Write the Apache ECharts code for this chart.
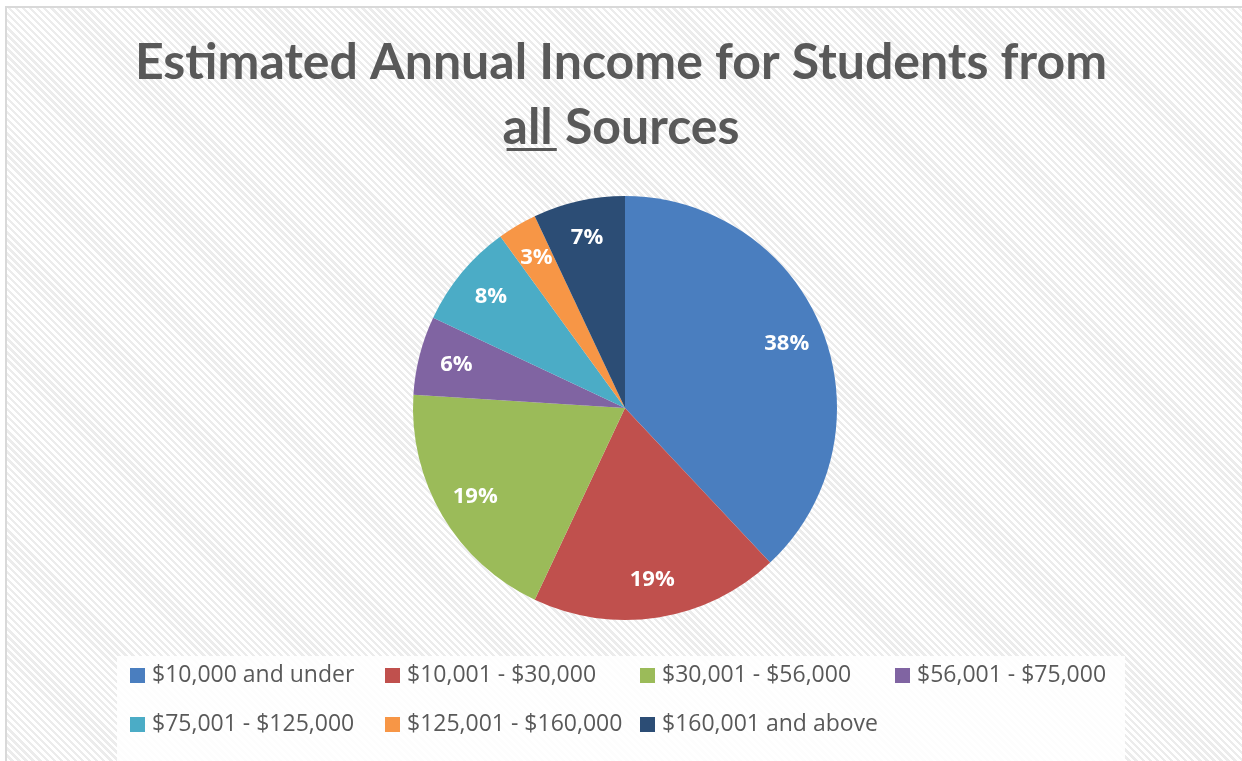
<!DOCTYPE html>
<html><head><meta charset="utf-8">
<script src="https://cdn.jsdelivr.net/npm/echarts@6/dist/echarts.min.js"></script>
<style>
html,body{margin:0;padding:0;width:1242px;height:761px;background:#fff;overflow:hidden}
#frame{position:absolute;left:5px;top:6px;width:1237px;height:755px;border-left:2px solid #d9d9d9;border-top:2px solid #d9d9d9;box-sizing:border-box;
background:repeating-linear-gradient(45deg,#ffffff 0px,#ffffff 2.6px,#ececec 2.6px,#ececec 5px);}
#chart{position:absolute;left:0;top:0;width:1242px;height:761px}
</style></head>
<body>
<div id="frame"></div>
<div id="chart"></div>
<script>
var categories = ['$10,000 and under','$10,001 - $30,000','$30,001 - $56,000','$56,001 - $75,000','$75,001 - $125,000','$125,001 - $160,000','$160,001 and above'];
var values = [38, 19, 19, 6, 8, 3, 7];
var colors = ['#4A7EBF','#C0504D','#9BBB59','#8064A2','#4BACC6','#F79646','#2C4D75'];
var titleLine1 = 'Estimated Annual Income for Students from';
var titleLine2a = 'all';
var titleLine2b = ' Sources';

var chart = echarts.init(document.getElementById('chart'), null, {renderer:'canvas'});
var data = categories.map(function(c,i){return {name:c, value:values[i]};});
var titleFont = 'bold 50px Lato';
var ctx = document.createElement('canvas').getContext('2d');
ctx.font = titleFont;
var wA = ctx.measureText(titleLine2a).width;
var wAll = ctx.measureText(titleLine2a + titleLine2b).width;
var line2Left = 625 - wAll/2;

chart.setOption({
  backgroundColor: 'transparent',
  color: colors,
  title: [{
    text: titleLine1, left: 'center', top: 33,
    textStyle: {fontFamily:'Lato', fontWeight:'bold', fontSize:50, color:'#595959'}
  },{
    text: titleLine2a + titleLine2b, left: 'center', top: 98,
    textStyle: {fontFamily:'Lato', fontWeight:'bold', fontSize:50, color:'#595959'}
  }],
  graphic: [{
    type:'rect', shape:{x: line2Left, y: 148, width: wA, height: 3}, style:{fill:'#595959'}
  },{
    type:'rect', z: -1, shape:{x: 117, y: 656, width: 1008, height: 105}, style:{fill:'rgba(255,255,255,0.9)'}
  }],
  legend: {
    left: 130, top: 654, width: 1060,
    padding: 0,
    itemWidth: 15, itemHeight: 15, itemGap: 6,
    icon: 'rect',
    data: categories,
    textStyle: {fontFamily:'Open Sans', fontSize:23, color:'#595959', width: 227, height: 43, lineHeight: 43, padding:[0,0,0,2]}
  },
  series: [{
    type: 'pie', center: [625, 408], radius: [0, 212],
    startAngle: 90, clockwise: true,
    data: data,
    label: {show:false}, labelLine:{show:false},
    emphasis: {disabled:true},
    itemStyle: {borderWidth:0}
  },{
    type: 'pie', center: [625, 408], radius: [130, 212],
    startAngle: 90, clockwise: true, silent: true,
    data: data,
    itemStyle: {color:'transparent'},
    label: {show:true, position:'inside', formatter:'{c}%', color:'#fff', fontFamily:'Open Sans', fontWeight:'bold', fontSize:22},
    labelLine:{show:false},
    emphasis: {disabled:true}
  }]
});
</script>
</body></html>
